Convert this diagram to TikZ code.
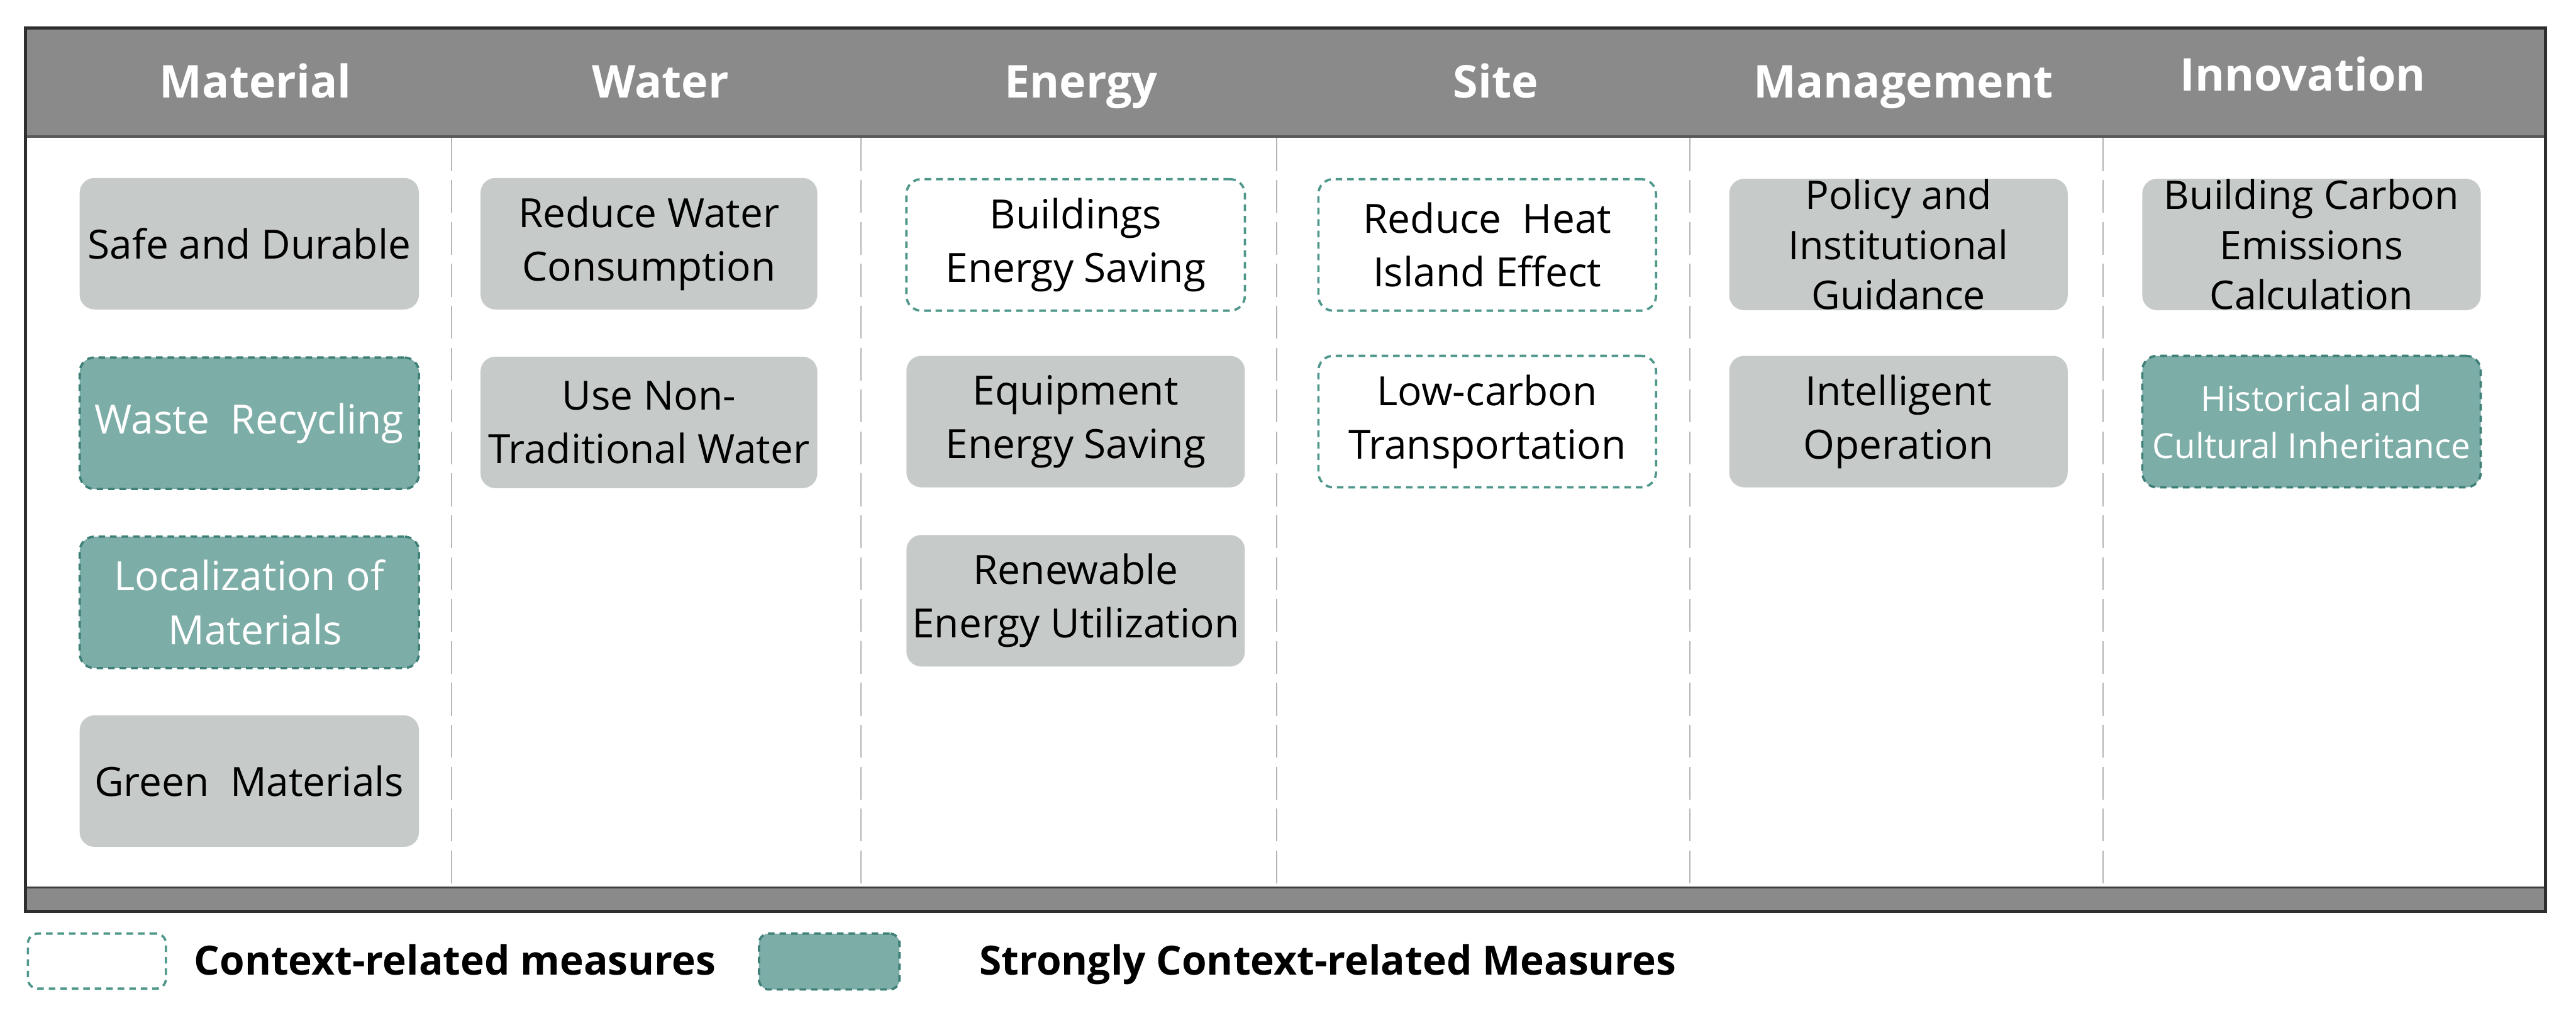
\documentclass[tikz,border=0pt]{standalone}
\usepackage{fontspec}
\setmainfont{Open Sans}
\definecolor{headgray}{HTML}{8A8A8A}
\definecolor{boxgray}{HTML}{C6CBC9}
\definecolor{tealfill}{HTML}{7DADA7}
\definecolor{tealdark}{HTML}{3E8077}
\definecolor{ctxteal}{HTML}{4E978A}
\definecolor{divgray}{HTML}{B5B5B5}
\definecolor{framedark}{HTML}{2E2E2E}
\newcommand{\boxfont}{\fontsize{24.5}{32.6}\selectfont}
\newcommand{\boxfontthree}{\fontsize{24}{30.3}\selectfont}
\newcommand{\boxfontsmall}{\fontsize{21}{28.7}\selectfont}
\newcommand{\headfont}{\fontsize{27.5}{33}\selectfont\bfseries}
\newcommand{\legfont}{\fontsize{24.5}{30}\selectfont\bfseries}
\begin{document}
\begin{tikzpicture}[x=1pt,y=-1pt,
  boxbase/.style={rounded corners=9pt, minimum width=206pt, minimum height=80pt, inner sep=0pt, align=center, font=\boxfont},
  graybox/.style={boxbase, fill=boxgray, text=black},
  ctxbox/.style={boxbase, fill=white, draw=ctxteal, line width=1.4pt, dash pattern=on 4pt off 3pt, text=black},
  strongbox/.style={boxbase, fill=tealfill, draw=tealdark, line width=1.4pt, dash pattern=on 4pt off 3pt, text=white},
  head/.style={anchor=base, text=white, font=\headfont, inner sep=0pt},
  divider/.style={draw=divgray, line width=0.7pt, dash pattern=on 20pt off 5.5pt},
  legtext/.style={anchor=base west, font=\legfont, inner sep=0pt}]
\useasboundingbox (0,0) rectangle (1568,616);
% frame and bands
\fill[white] (15.5,17) rectangle (1549.5,554.5);
\fill[headgray] (15.5,17) rectangle (1549.5,83);
\fill[headgray] (15.5,540) rectangle (1549.5,554.5);
\draw[draw=black!65, line width=1.5pt] (15.5,83) -- (1549.5,83);
\draw[draw=black!75, line width=1pt] (15.5,540) -- (1549.5,540);
\draw[draw=framedark, line width=2pt] (15.5,17) rectangle (1549.5,554.5);
% column dividers
\foreach \xx in {275,524,777,1028.5,1280}
  \draw[divider] (\xx,84) -- (\xx,539);
% headers
\node[head] (hmat) at (155.5,59.5) {Material};
\node[head] (hwat) at (402,59.5) {Water};
\node[head] (hene) at (658,59.5) {Energy};
\node[head] (hsit) at (910.5,59.5) {Site};
\node[head] (hman) at (1158.6,59.5) {Management};
\node[head] (hinn) at (1401.8,55.5) {Innovation};
% Material
\node[graybox, minimum width=206.5pt] (m1) at (151.75,148.25) {Safe and Durable};
\node[strongbox, minimum width=206.5pt] (m2) at (151.75,257.5) {Waste\ \ Recycling};
\node[strongbox, minimum width=206.5pt] (m3) at (151.75,366.5) {Localization of\\\hspace*{7pt}Materials};
\node[graybox, minimum width=206.5pt] (m4) at (151.75,475.25) {Green\ \ Materials};
% Water
\node[graybox, minimum width=205pt] (w1) at (395,148.25) {Reduce Water\\Consumption};
\node[graybox, minimum width=205pt] (w2) at (395,257) {Use Non-\\Traditional Water};
% Energy
\node[ctxbox] (e1) at (654.75,149) {Buildings\\Energy Saving};
\node[graybox] (e2) at (654.75,256.5) {Equipment\\Energy Saving};
\node[graybox] (e3) at (654.75,365.5) {Renewable\\Energy Utilization};
% Site
\node[ctxbox, minimum width=205.5pt] (s1) at (905.25,149) {Reduce\ \ Heat\\Island Effect};
\node[ctxbox, minimum width=205.5pt] (s2) at (905.25,256.5) {Low-carbon\\Transportation};
% Management
\node[graybox, font=\boxfontthree] (g1) at (1155.6,148.75) {Policy and\\Institutional\\Guidance};
\node[graybox] (g2) at (1155.6,256.5) {Intelligent\\Operation};
% Innovation
\node[graybox, font=\boxfontthree] (i1) at (1407,148.75) {Building Carbon\\Emissions\\Calculation};
\node[strongbox, font=\boxfontsmall] (i2) at (1407,256.5) {Historical and\\Cultural Inheritance};
% legend
\node[ctxbox, minimum width=84pt, minimum height=33.5pt, rounded corners=6pt] (lg1) at (59,584.75) {};
\node[legtext] (lt1) at (118,593) {Context-related measures};
\node[strongbox, minimum width=85.5pt, minimum height=34pt, rounded corners=6pt] (lg2) at (504.75,585) {};
\node[legtext] (lt2) at (596,593) {Strongly Context-related Measures};
\end{tikzpicture}
\end{document}
